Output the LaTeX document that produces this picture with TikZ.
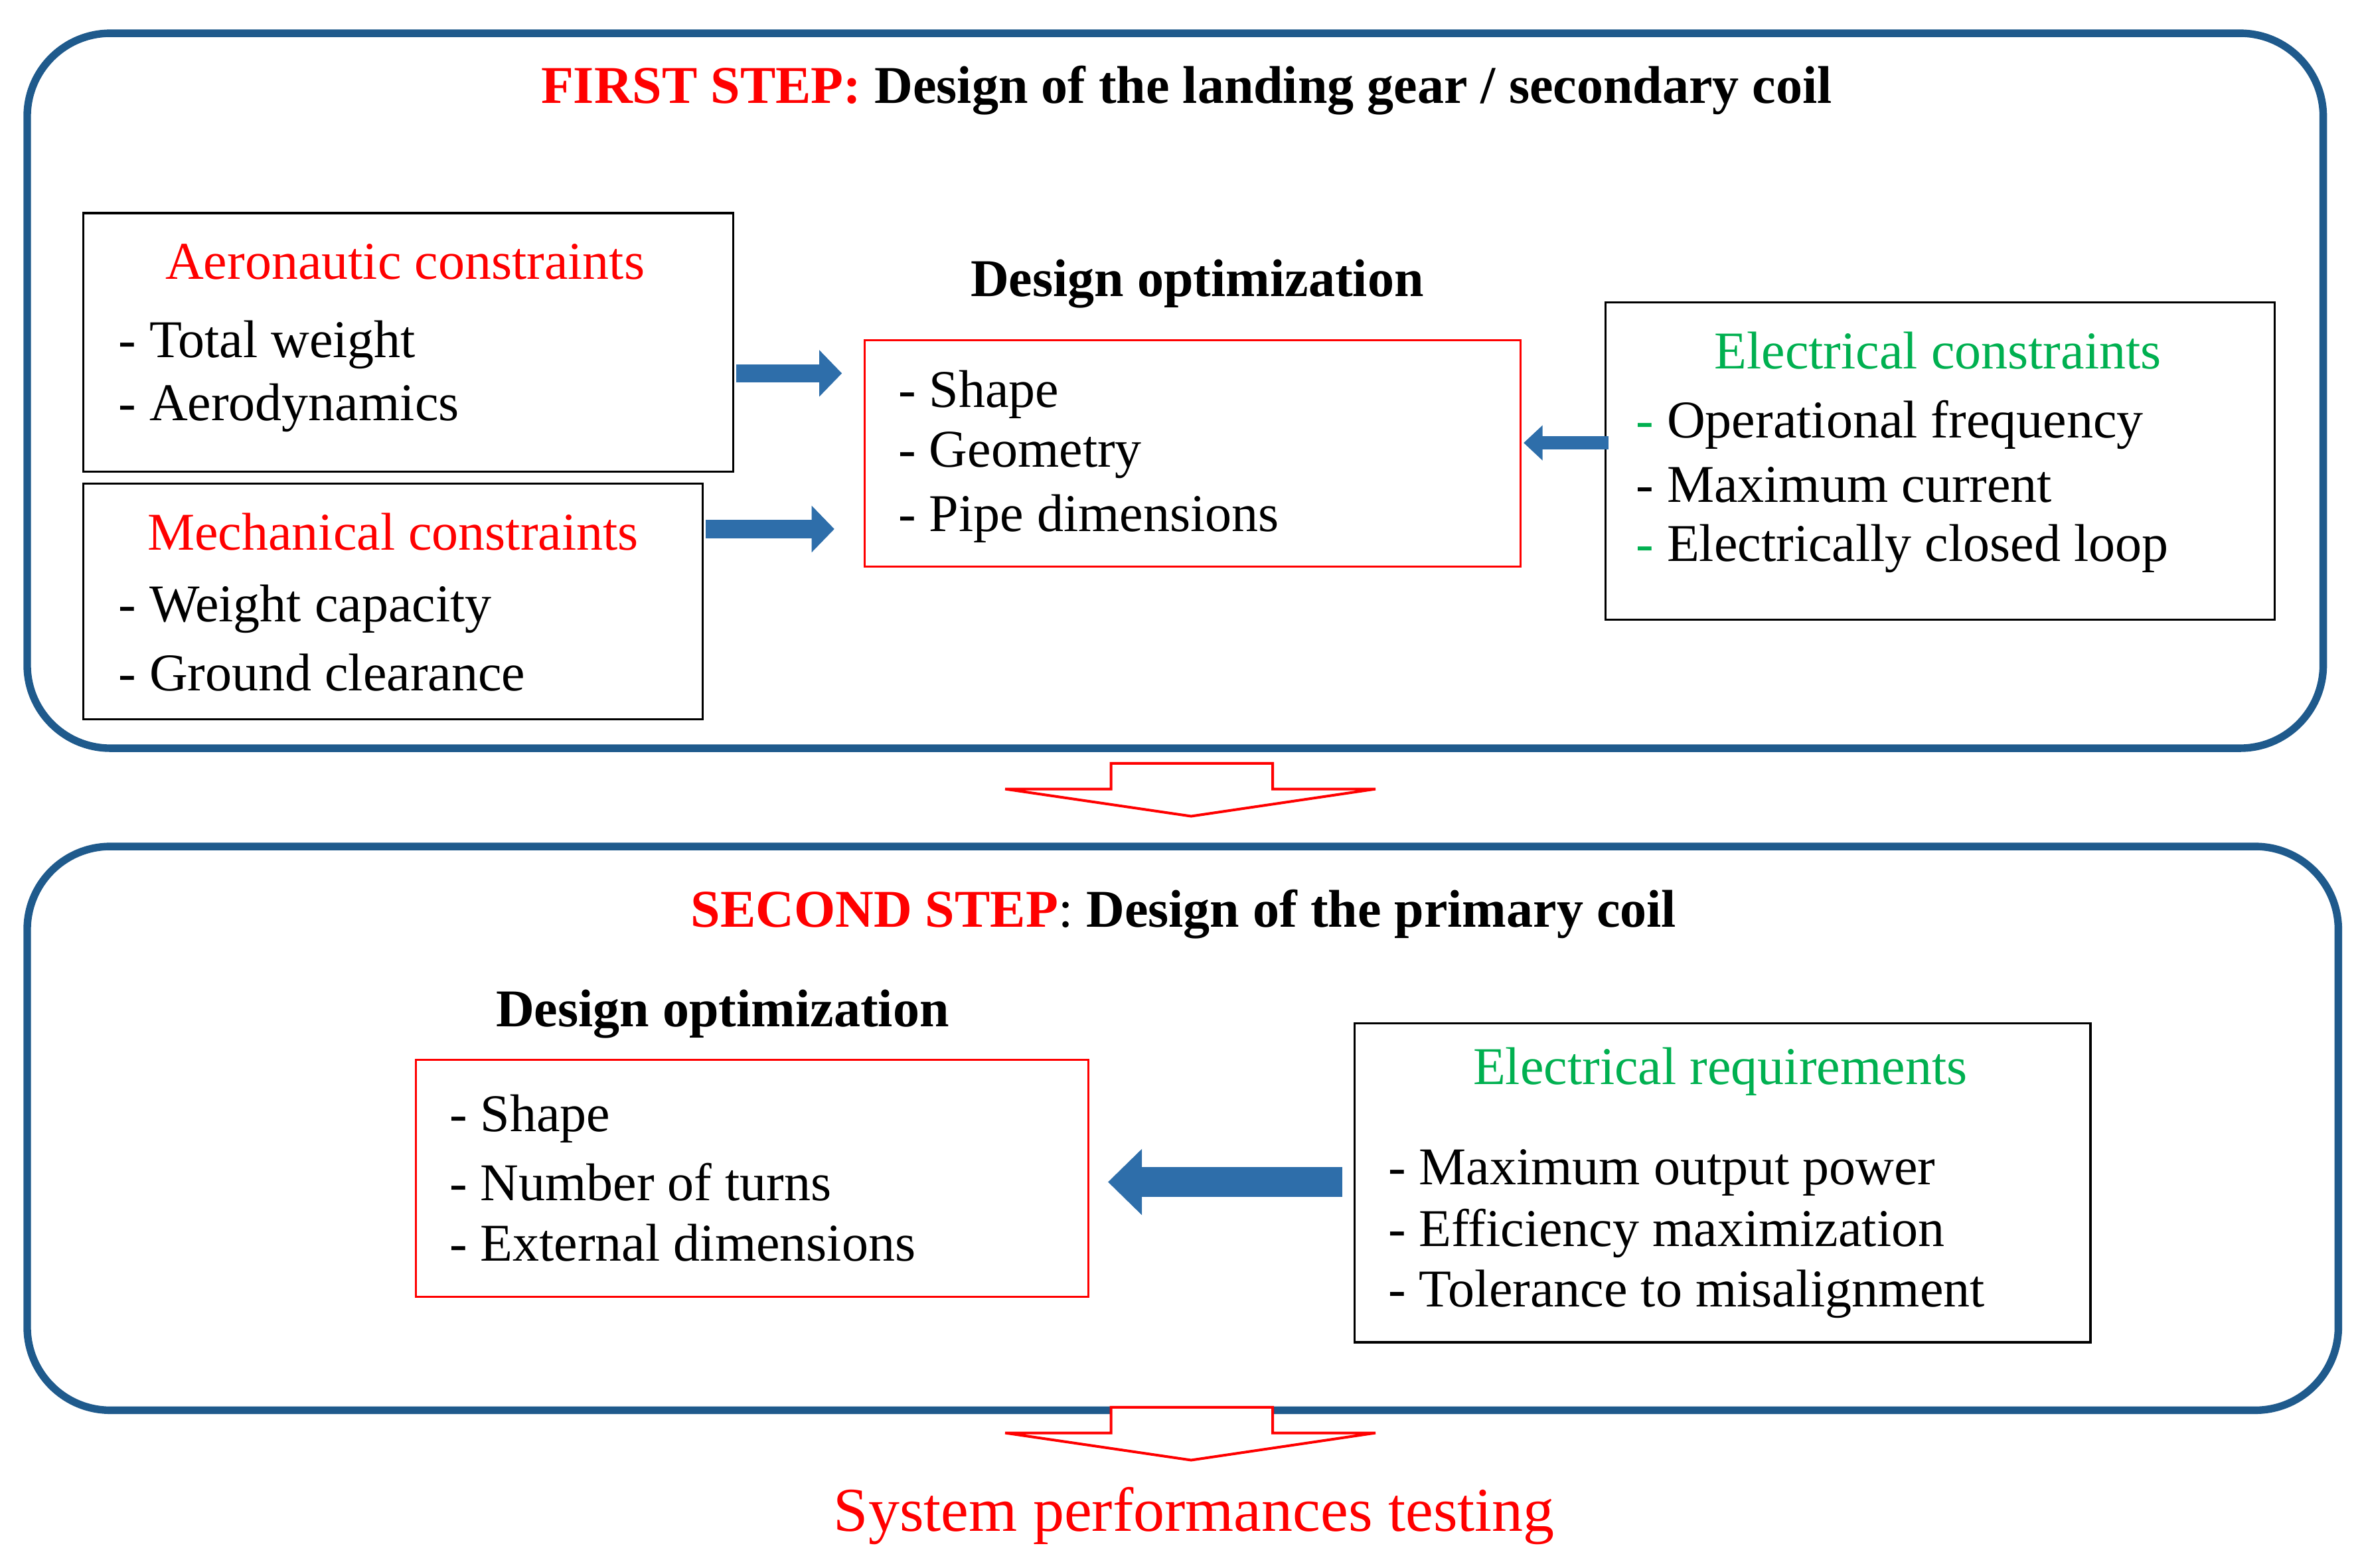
\documentclass[tikz,border=0pt]{standalone}
\usepackage{fontspec}
\setmainfont{Liberation Serif}
\usetikzlibrary{arrows.meta}
\definecolor{frameblue}{RGB}{31,90,140}
\definecolor{arrblue}{RGB}{46,110,170}
\definecolor{tgreen}{RGB}{0,176,80}
\definecolor{tred}{RGB}{255,0,0}
\begin{document}
\begin{tikzpicture}[x=0.02cm,y=-0.02cm,
  frame/.style={draw=frameblue,line width=0.1cm,rounded corners=1.1cm},
  bbox/.style={draw=black,line width=0.8pt},
  rbox/.style={draw=tred,line width=0.8pt},
  txt/.style={font=\fontsize{20}{24}\selectfont,inner sep=0pt},
  btxt/.style={font=\fontsize{20}{24}\selectfont\bfseries,inner sep=0pt},
  item/.style={txt,anchor=west},
  fat/.style={draw=arrblue,line width=0.24cm,-{Triangle[length=0.3cm,width=0.6cm]}},
  hollow/.style={draw=tred,fill=white,line width=1pt}]
\useasboundingbox (0,0) rectangle (1560,1037);
% frames
\draw[frame] (18,22) rectangle (1537,495);
\draw[frame] (18,560) rectangle (1547,933);
\node[btxt] (t1) at (785,60) {\textcolor{tred}{FIRST STEP:} Design of the landing gear / secondary coil};
\node[btxt] (t2) at (783,605) {\textcolor{tred}{SECOND STEP}\mdseries:\bfseries{} Design of the primary coil};
% step 1 boxes
\draw[bbox] (55,141) rectangle (485,312);
\node[txt,tred] (aerot) at (268,173) {Aeronautic constraints};
\node[item] (a1) at (78,228) {- Total weight};
\node[item] (a2) at (78,270) {- Aerodynamics};
\coordinate (aero) at (487,247);
\draw[bbox] (55,320) rectangle (465,476);
\node[txt,tred] (mecht) at (260,352) {Mechanical constraints};
\node[item] (m1) at (78,403) {- Weight capacity};
\node[item] (m2) at (78,445) {- Ground clearance};
\coordinate (mech) at (467,350);
\node[btxt] (do1) at (792,188) {Design optimization};
\draw[rbox] (572,225) rectangle (1006,375);
\node[item] (d1) at (594,261) {- Shape};
\node[item] (d2) at (594,301) {- Geometry};
\node[item] (d3) at (594,343) {- Pipe dimensions};
\coordinate (opt1a) at (557,247);
\coordinate (opt1b) at (552,350);
\coordinate (opt1c) at (1008,293);
\draw[bbox] (1062,200) rectangle (1505,410);
\node[txt,tgreen] (elt) at (1282,232) {Electrical constraints};
\node[item] (e1) at (1082,281) {\textcolor{tgreen}{-} Operational frequency};
\node[item] (e2) at (1082,321) {- Maximum current};
\node[item] (e3) at (1082,363) {\textcolor{tgreen}{-} Electrically closed loop};
\coordinate (elc) at (1064,293);
\draw[fat] (aero) -- (opt1a);
\draw[fat] (mech) -- (opt1b);
\draw[fat,line width=0.18cm,-{Triangle[length=0.25cm,width=0.45cm]}] (elc) -- (opt1c);
% hollow arrows
\draw[hollow] (735,505) -- (842,505) -- (842,522) -- (910,522) -- (788,540) -- (665,522) -- (735,522) -- cycle;
\draw[hollow] (735,931) -- (842,931) -- (842,948) -- (910,948) -- (788,966) -- (665,948) -- (735,948) -- cycle;
% step 2
\node[btxt] (do2) at (478,671) {Design optimization};
\draw[rbox] (275,701) rectangle (720,858);
\node[item] (s1) at (297,740) {- Shape};
\node[item] (s2) at (297,782) {- Number of turns};
\node[item] (s3) at (297,822) {- External dimensions};
\draw[bbox] (896,677) rectangle (1383,888);
\node[txt,tgreen] (ert) at (1138,709) {Electrical requirements};
\node[item] (r1) at (918,776) {- Maximum output power};
\node[item] (r2) at (918,816) {- Efficiency maximization};
\node[item] (r3) at (918,856) {- Tolerance to misalignment};
\coordinate (req) at (888,782);
\coordinate (opt2) at (733,782);
\draw[fat,line width=0.4cm,-{Triangle[length=0.45cm,width=0.85cm]}] (req) -- (opt2);
\node[txt,tred,font=\fontsize{23.5}{28}\selectfont] (sys) at (790,1003) {System performances testing};
\end{tikzpicture}
\end{document}
